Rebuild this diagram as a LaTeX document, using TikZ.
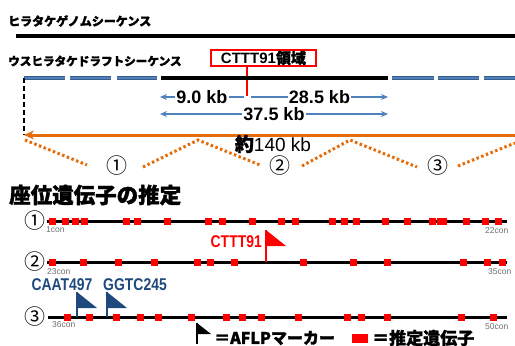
\documentclass[tikz,border=0pt]{standalone}
\usepackage{fontspec}
\setmainfont{Liberation Sans}
\newfontfamily\jp{Noto Sans CJK JP}[BoldFeatures={FakeBold=1.6}]
\usetikzlibrary{arrows.meta}
\definecolor{segblue}{RGB}{79,129,189}
\definecolor{segdark}{RGB}{56,93,138}
\definecolor{orng}{RGB}{228,108,10}
\definecolor{navy}{RGB}{31,73,125}
\definecolor{conGray}{RGB}{110,110,110}
\tikzset{
  jptitle/.style={anchor=west, inner sep=0, font=\jp\bfseries\fontsize{12}{12}\selectfont},
  kb/.style={font=\bfseries\fontsize{18}{18}\selectfont, fill=white, inner sep=1pt},
  seg/.style={draw=segdark, double=segblue, double distance=1.6pt, line width=1.1pt},
  dimarrow/.style={draw=segblue, line width=1.5pt},
  zig/.style={draw=orng, line width=3pt, dash pattern=on 2.5pt off 2.5pt},
  rowline/.style={line width=3pt},
  gene/.style={fill=red, minimum size=7pt, inner sep=0, draw=none},
  cnum/.style={font=\jp\fontsize{21}{21}\selectfont, inner sep=0},
  conlab/.style={font=\fontsize{8.5}{8.5}\selectfont, text=conGray, inner sep=0, anchor=west},
  flaglab/.style={font=\bfseries\fontsize{17}{17}\selectfont, inner sep=0},
}
\begin{document}
\begin{tikzpicture}[x=1pt,y=-1pt]
\useasboundingbox (0,0) rectangle (515,346);
% titles
\node[jptitle] (t1) at (8,21) {ヒラタケゲノムシーケンス};
\coordinate (g0) at (16,36); \coordinate (g1) at (515,36);
\draw[line width=3.5pt] (g0) -- (g1);
\node[jptitle, font=\jp\bfseries\fontsize{11.6}{11.6}\selectfont] (t2) at (8,61) {ウスヒラタケドラフトシーケンス};
% CTTT91 box
\node[draw=red, line width=1.5pt, minimum width=105pt, minimum height=16pt, inner sep=0,
      font=\bfseries\fontsize{15}{15}\selectfont] (box) at (263.5,58) {CTTT91{\jp 領域}};
\coordinate (rl) at (247,96);
\draw[red, line width=2pt] (box.south -| rl) -- (rl);
% draft sequence
\coordinate (s1a) at (24,78); \coordinate (s1b) at (65,78);
\coordinate (s2a) at (70,78); \coordinate (s2b) at (111,78);
\coordinate (s3a) at (117,78); \coordinate (s3b) at (157,78);
\coordinate (ba) at (161,78); \coordinate (bb) at (388,78);
\coordinate (s4a) at (392,78); \coordinate (s4b) at (434,78);
\coordinate (s5a) at (438,78); \coordinate (s5b) at (479,78);
\coordinate (s6a) at (484,78); \coordinate (s6b) at (515,78);
\draw[seg] (s1a) -- (s1b); \draw[seg] (s2a) -- (s2b); \draw[seg] (s3a) -- (s3b);
\draw[seg] (s4a) -- (s4b); \draw[seg] (s5a) -- (s5b); \draw[seg] (s6a) -- (s6b);
\draw[line width=4pt] (ba) -- (bb);
% dimension arrows
\coordinate (d9a) at (244,97); \coordinate (d9b) at (160,97);
\coordinate (d28a) at (251,97); \coordinate (d28b) at (388,97);
\coordinate (d37a) at (160,114); \coordinate (d37b) at (388,114);
\draw[dimarrow, -{Stealth[length=7pt,width=6pt]}] (d9a) -- node[kb] (k9) {9.0 kb} (d9b);
\draw[dimarrow, -{Stealth[length=7pt,width=6pt]}] (d28a) -- node[kb] (k28) {28.5 kb} (d28b);
\draw[dimarrow, {Stealth[length=7pt,width=6pt]}-{Stealth[length=7pt,width=6pt]}] (d37a) -- node[kb] (k37) {37.5 kb} (d37b);
% left dashed and orange arrow
\coordinate (oa) at (515,135); \coordinate (ob) at (24,135);
\draw[line width=1.5pt, dash pattern=on 5pt off 3pt] (s1a) -- (ob);
\draw[orng, line width=3pt, -{Stealth[length=10pt,width=9pt]}] (oa) -- (ob);
\node[inner sep=0, font=\fontsize{19}{19}\selectfont] (k140) at (273,144) {{\jp\bfseries 約}140 kb};
% zigzag
\draw[zig] (25,140) -- (87,165);
\draw[zig] (143,167) -- (198,140) -- (260,165);
\draw[zig] (302,166) -- (350,140) -- (417,167);
\draw[zig] (458,166) -- (515,143);
\node[cnum] (z1) at (117,166) {①};
\node[cnum] (z2) at (280,166) {②};
\node[cnum] (z3) at (438,166) {③};
% heading
\node[jptitle, font=\jp\bfseries\fontsize{21.5}{21.5}\selectfont] (t3) at (9,195) {座位遺伝子の推定};
% rows
\node[cnum] (r1) at (35,221) {①};
\node[cnum] (r2) at (35,262) {②};
\node[cnum] (r3) at (35,317) {③};
\coordinate (r1e) at (507,221); \coordinate (r2e) at (507,262); \coordinate (r3e) at (507,317);
\draw[rowline] (47,221) -- (r1e);
\draw[rowline] (47,262) -- (r2e);
\draw[rowline] (48,317) -- (r3e);
\foreach \x in {52,65,75,84,126,137,167,208,222,252,281,295,332,344,356,385,407,432,440,443,466,485,498}
  \node[gene] (ga\x) at (\x,221) {};
\foreach \x in {52,83,118,154,197,210,234,303,353,387,463,487,502}
  \node[gene] (gb\x) at (\x,262) {};
\foreach \x in {67,89,116,140,158,191,226,242,261,298,347,361,387,461,493}
  \node[gene] (gc\x) at (\x,317) {};
\node[conlab] (c1) at (46,230) {1con};
\node[conlab] (c22) at (485,231) {22con};
\node[conlab] (c23) at (47,272) {23con};
\node[conlab] (c35) at (488,272) {35con};
\node[conlab] (c36) at (52,325) {36con};
\node[conlab] (c50) at (485,327) {50con};
% CTTT91 flag
\coordinate (f1t) at (266,230); \coordinate (f1b) at (266,262);
\draw[red, line width=2pt] (f1t) -- (f1b);
\fill[red] (f1t) -- (286,246) -- (266,246) -- cycle;
\node[flaglab, text=red, anchor=east] (fl1) at (262,242) {\scalebox{0.82}[1]{CTTT91}};
% blue flags
\coordinate (f2t) at (77,292); \coordinate (f2b) at (77,317);
\coordinate (f3t) at (107,292); \coordinate (f3b) at (107,317);
\draw[navy, line width=2pt] (f2t) -- (f2b);
\fill[navy] (f2t) -- (97,308) -- (77,308) -- cycle;
\draw[navy, line width=2pt] (f3t) -- (f3b);
\fill[navy] (f3t) -- (127,308) -- (107,308) -- cycle;
\node[flaglab, text=navy] (fl2) at (62,285) {\scalebox{0.82}[1]{CAAT497}};
\node[flaglab, text=navy] (fl3) at (135,285) {\scalebox{0.82}[1]{GGTC245}};
% legend
\coordinate (lft) at (197,323); \coordinate (lfb) at (197,344);
\draw[line width=2pt] (lft) -- (lfb);
\fill (lft) -- (211,334) -- (197,334) -- cycle;
\node[jptitle, font=\jp\bfseries\fontsize{16}{16}\selectfont] (l1) at (214,338) {＝AFLPマーカー};
\node[fill=red, minimum width=16pt, minimum height=9pt, inner sep=0] (lsq) at (360,338.5) {};
\node[jptitle, font=\jp\bfseries\fontsize{17}{17}\selectfont] (l2) at (372,338) {＝推定遺伝子};
\end{tikzpicture}
\end{document}
